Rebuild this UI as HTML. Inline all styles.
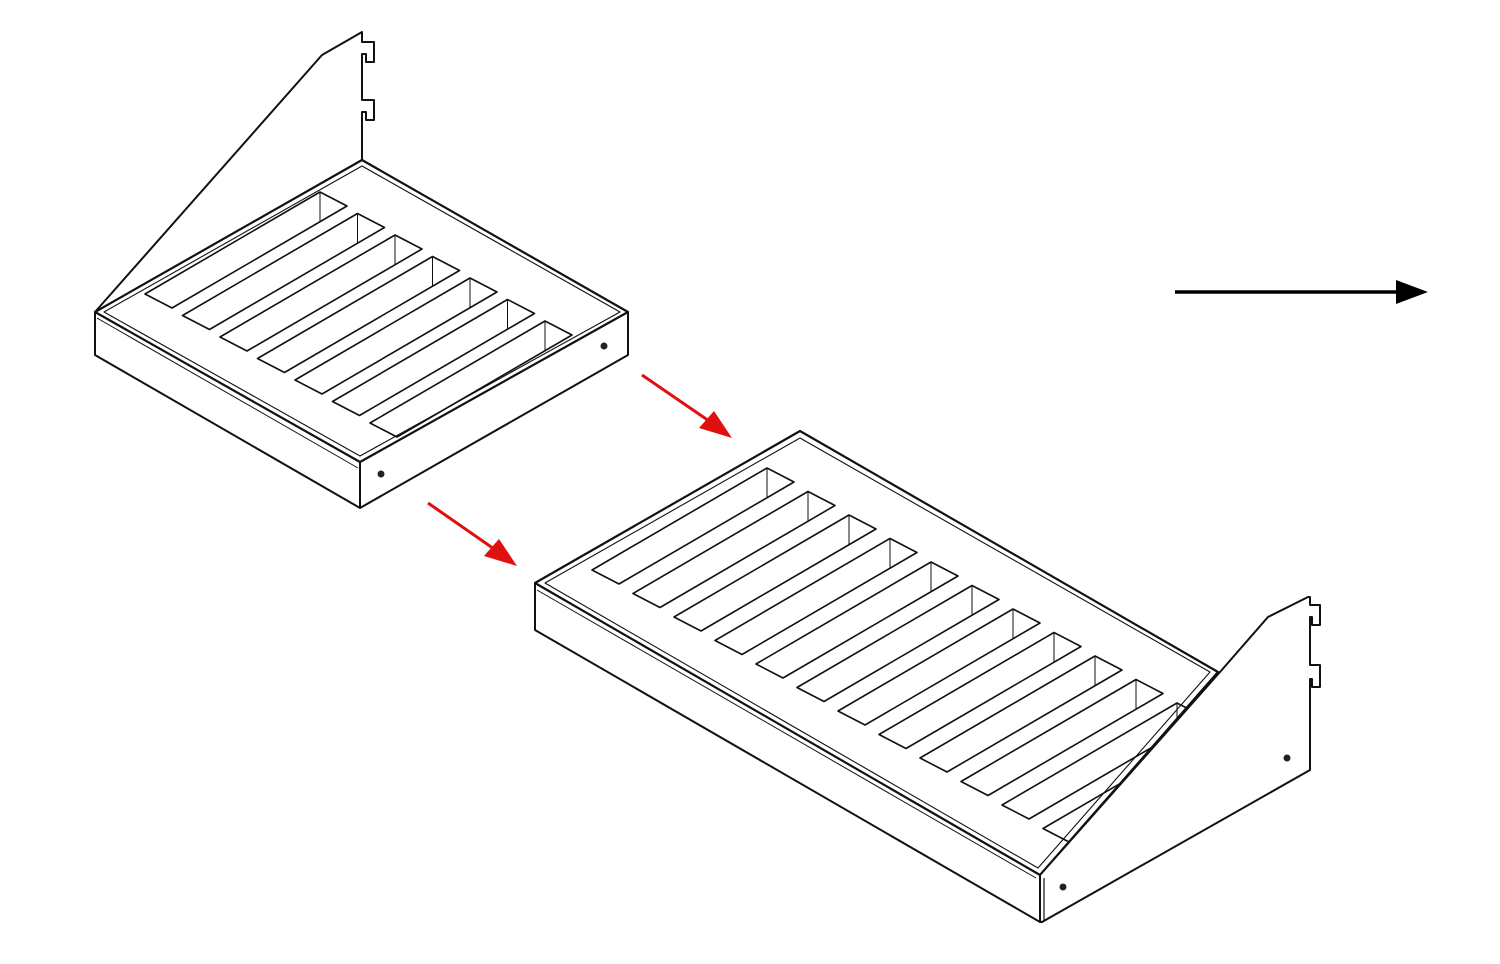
<!DOCTYPE html>
<html><head><meta charset="utf-8"><style>
html,body{margin:0;padding:0;background:#fff;}
svg{display:block;}
</style></head><body>
<svg id="s" width="1500" height="964" viewBox="0 0 1500 964" xmlns="http://www.w3.org/2000/svg">
<g fill="none" stroke="#111" stroke-width="1.6" stroke-linejoin="round">
<!-- SMALL SHELF -->
<path d="M95,312 L322,55 L362,32 L362,42 L374,42 L374,62 L366,62 L366,54 L362,54 L362,100 L374,100 L374,120 L366,120 L366,112 L362,112 L362,160" stroke-width="2"/>
<path d="M95,312 L362,160 L628,312 L360,462 Z" stroke-width="2.2"/>
<path d="M104,312 L362,166 L620,312 L360,456 Z" stroke-width="1.1"/>
<path d="M95,312 L95,355 L360,508 L628,355 L628,312" stroke-width="2"/>
<path d="M360,462 L360,508" stroke-width="2"/>
<path d="M97,318 L358,468" stroke-width="1"/>
<g id="slotsSmall"></g>
<!-- BIG SHELF -->
<path d="M535,583 L800,431 L1218,672 L1040,875 Z" stroke-width="2.2"/>
<path d="M545,583 L800,438 L1210,672 L1038,868 Z" stroke-width="1.1"/>
<path d="M535,583 L535,630 L1040,922 L1040,875" stroke-width="2"/>
<path d="M537,590 L1036,878" stroke-width="1"/>
<g id="slotsBig"></g>
<path d="M1040,875 L1220,672 L1268,617 L1308,597 L1310,597 L1310,605 L1320,605 L1320,625 L1312,625 L1312,617 L1310,617 L1310,665 L1320,665 L1320,687 L1312,687 L1312,679 L1310,679 L1310,770 L1042,922 L1040,922 Z" fill="#fff" stroke-width="2"/>
<path d="M1044,878 L1044,922" stroke-width="1.2"/>
</g>
<g fill="#222">
<circle cx="604" cy="346" r="3.5"/>
<circle cx="381" cy="474" r="3.5"/>
<circle cx="1063" cy="887" r="3.5"/>
<circle cx="1287" cy="758" r="3.5"/>
</g>
<!-- arrows -->
<g stroke="#e01010" stroke-width="3" fill="#e01010">
<line x1="642" y1="375" x2="712" y2="423"/>
<polygon points="732,438 699,428 714,411" stroke="none"/>
<line x1="428" y1="503" x2="497" y2="551"/>
<polygon points="517,566 484,556 499,539" stroke="none"/>
</g>
<line x1="1175" y1="292" x2="1400" y2="292" stroke="#000" stroke-width="3.5"/>
<polygon points="1428,292 1396,280 1396,304" fill="#000"/>
</svg>
<script>
function slots(id,x0,y0,sx,sy,n){
  var g=document.getElementById(id),h='';
  for(var i=0;i<n;i++){
    var ax=x0+sx*i, ay=y0+sy*i;
    var L=[175,-102], W=[27,14];
    var p=[[ax,ay],[ax+L[0],ay+L[1]],[ax+L[0]+W[0],ay+L[1]+W[1]],[ax+W[0],ay+W[1]]];
    h+='<polygon stroke-width="1.6" points="'+p.map(function(q){return q.join(',')}).join(' ')+'"/>';
    h+='<line stroke-width="1" x1="'+(ax+L[0])+'" y1="'+(ay+L[1])+'" x2="'+(ax+L[0])+'" y2="'+(ay+L[1]+30)+'"/>';
  }
  g.innerHTML=h;
}
slots('slotsSmall',145,294,37.5,21.5,7);
slots('slotsBig',592,570,41,23.5,12);
</script>
</body></html>
